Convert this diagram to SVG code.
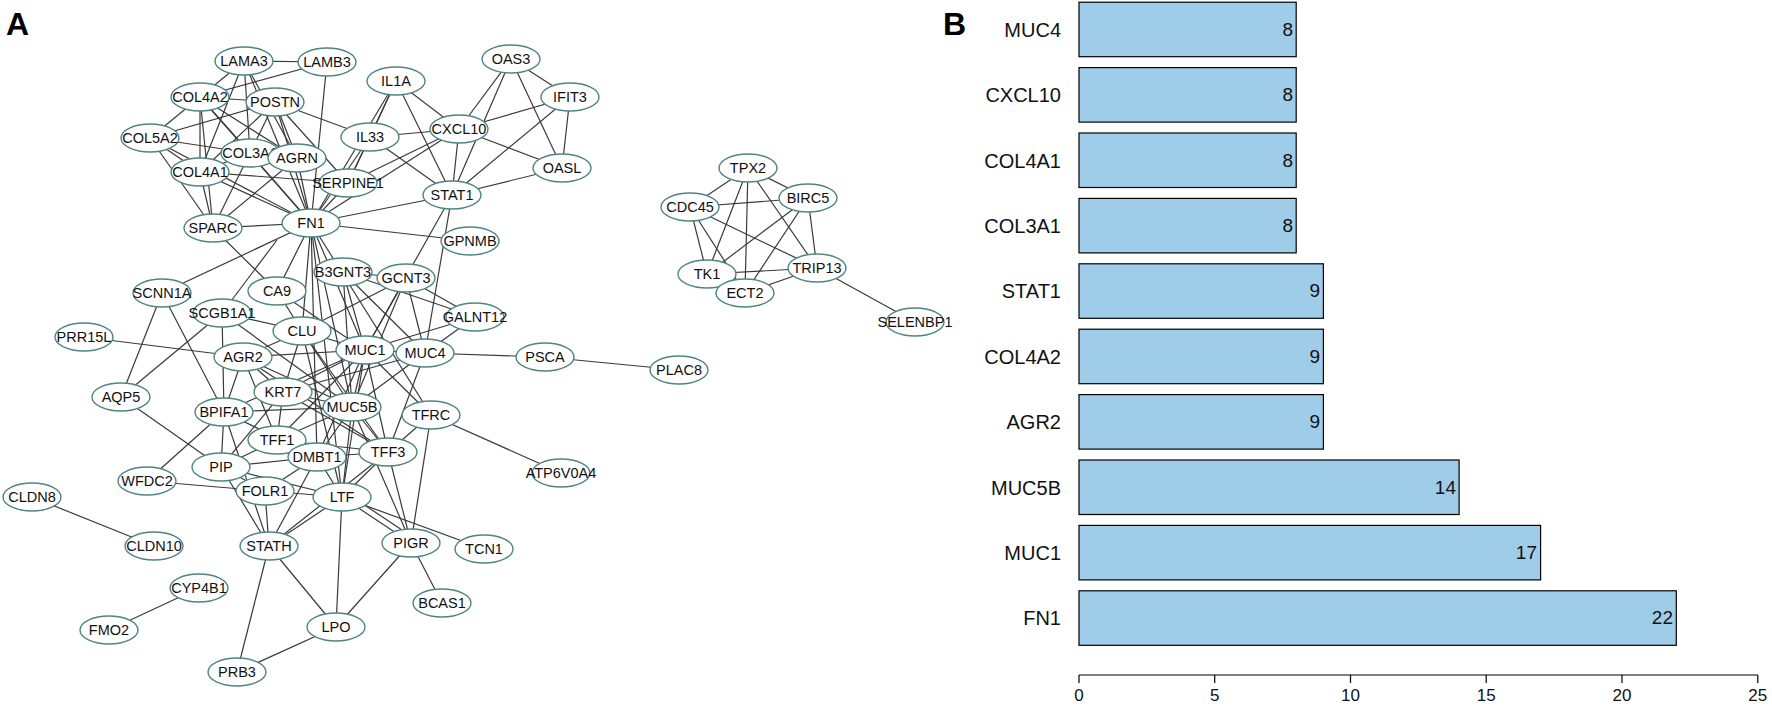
<svg xmlns="http://www.w3.org/2000/svg" width="1772" height="719" viewBox="0 0 1772 719">
<style>
.e line{stroke:#3a3a3a;stroke-width:1.2}
.n ellipse{fill:#fff;stroke:#4f8484;stroke-width:1.4}
.n text{font-family:"Liberation Sans",Arial,sans-serif;font-size:14.5px;text-anchor:middle;fill:#111}
.pl{font-family:"Liberation Sans",Arial,sans-serif;font-size:32px;font-weight:bold;fill:#000}
.bar{fill:#9fcde9;stroke:#000;stroke-width:1.2}
.bl{font-family:"Liberation Sans",Arial,sans-serif;font-size:20px;text-anchor:end;fill:#111}
.bv{font-family:"Liberation Sans",Arial,sans-serif;font-size:19px;text-anchor:end;fill:#111}
.tl{font-family:"Liberation Sans",Arial,sans-serif;font-size:17px;text-anchor:middle;fill:#111}
.ax{stroke:#000;stroke-width:1.2;fill:none}
</style>
<rect width="1772" height="719" fill="#fff"/>
<text class="pl" x="6" y="35">A</text>
<text class="pl" x="943" y="35">B</text>
<g id="connectors" class="e">
<line x1="244" y1="61" x2="327" y2="62"/>
<line x1="244" y1="61" x2="200" y2="97"/>
<line x1="244" y1="61" x2="200" y2="172"/>
<line x1="244" y1="61" x2="250" y2="153"/>
<line x1="244" y1="61" x2="297" y2="158"/>
<line x1="244" y1="61" x2="311" y2="223"/>
<line x1="327" y1="62" x2="200" y2="97"/>
<line x1="327" y1="62" x2="311" y2="223"/>
<line x1="200" y1="97" x2="275" y2="102"/>
<line x1="200" y1="97" x2="150" y2="138"/>
<line x1="200" y1="97" x2="200" y2="172"/>
<line x1="200" y1="97" x2="213" y2="228"/>
<line x1="200" y1="97" x2="250" y2="153"/>
<line x1="200" y1="97" x2="297" y2="158"/>
<line x1="200" y1="97" x2="311" y2="223"/>
<line x1="150" y1="138" x2="275" y2="102"/>
<line x1="150" y1="138" x2="250" y2="153"/>
<line x1="150" y1="138" x2="200" y2="172"/>
<line x1="150" y1="138" x2="311" y2="223"/>
<line x1="150" y1="138" x2="213" y2="228"/>
<line x1="250" y1="153" x2="275" y2="102"/>
<line x1="250" y1="153" x2="213" y2="228"/>
<line x1="250" y1="153" x2="311" y2="223"/>
<line x1="250" y1="153" x2="200" y2="172"/>
<line x1="200" y1="172" x2="348" y2="183"/>
<line x1="200" y1="172" x2="311" y2="223"/>
<line x1="200" y1="172" x2="213" y2="228"/>
<line x1="200" y1="172" x2="275" y2="102"/>
<line x1="275" y1="102" x2="370" y2="137"/>
<line x1="275" y1="102" x2="311" y2="223"/>
<line x1="275" y1="102" x2="297" y2="158"/>
<line x1="275" y1="102" x2="348" y2="183"/>
<line x1="297" y1="158" x2="311" y2="223"/>
<line x1="297" y1="158" x2="213" y2="228"/>
<line x1="213" y1="228" x2="311" y2="223"/>
<line x1="213" y1="228" x2="277" y2="291"/>
<line x1="348" y1="183" x2="311" y2="223"/>
<line x1="348" y1="183" x2="370" y2="137"/>
<line x1="348" y1="183" x2="396" y2="81"/>
<line x1="348" y1="183" x2="459" y2="129"/>
<line x1="396" y1="81" x2="370" y2="137"/>
<line x1="396" y1="81" x2="311" y2="223"/>
<line x1="396" y1="81" x2="459" y2="129"/>
<line x1="396" y1="81" x2="452" y2="195"/>
<line x1="370" y1="137" x2="311" y2="223"/>
<line x1="370" y1="137" x2="459" y2="129"/>
<line x1="370" y1="137" x2="452" y2="195"/>
<line x1="459" y1="129" x2="311" y2="223"/>
<line x1="459" y1="129" x2="452" y2="195"/>
<line x1="459" y1="129" x2="511" y2="59"/>
<line x1="459" y1="129" x2="570" y2="97"/>
<line x1="459" y1="129" x2="562" y2="168"/>
<line x1="511" y1="59" x2="570" y2="97"/>
<line x1="511" y1="59" x2="562" y2="168"/>
<line x1="511" y1="59" x2="452" y2="195"/>
<line x1="570" y1="97" x2="562" y2="168"/>
<line x1="570" y1="97" x2="452" y2="195"/>
<line x1="562" y1="168" x2="452" y2="195"/>
<line x1="452" y1="195" x2="311" y2="223"/>
<line x1="452" y1="195" x2="365" y2="350"/>
<line x1="452" y1="195" x2="425" y2="353"/>
<line x1="311" y1="223" x2="470" y2="241"/>
<line x1="311" y1="223" x2="277" y2="291"/>
<line x1="311" y1="223" x2="302" y2="331"/>
<line x1="311" y1="223" x2="365" y2="350"/>
<line x1="311" y1="223" x2="352" y2="407"/>
<line x1="311" y1="223" x2="431" y2="415"/>
<line x1="311" y1="223" x2="162" y2="293"/>
<line x1="311" y1="223" x2="342" y2="497"/>
<line x1="311" y1="223" x2="317" y2="457"/>
<line x1="222" y1="313" x2="277" y2="240"/>
<line x1="162" y1="293" x2="121" y2="397"/>
<line x1="162" y1="293" x2="224" y2="412"/>
<line x1="121" y1="397" x2="222" y2="313"/>
<line x1="121" y1="397" x2="221" y2="467"/>
<line x1="84" y1="337" x2="243" y2="357"/>
<line x1="222" y1="313" x2="224" y2="412"/>
<line x1="222" y1="313" x2="302" y2="331"/>
<line x1="222" y1="313" x2="352" y2="407"/>
<line x1="277" y1="291" x2="365" y2="350"/>
<line x1="277" y1="291" x2="302" y2="331"/>
<line x1="302" y1="331" x2="365" y2="350"/>
<line x1="302" y1="331" x2="283" y2="392"/>
<line x1="302" y1="331" x2="243" y2="357"/>
<line x1="302" y1="331" x2="352" y2="407"/>
<line x1="302" y1="331" x2="388" y2="452"/>
<line x1="302" y1="331" x2="342" y2="497"/>
<line x1="302" y1="331" x2="406" y2="278"/>
<line x1="243" y1="357" x2="365" y2="350"/>
<line x1="243" y1="357" x2="352" y2="407"/>
<line x1="243" y1="357" x2="283" y2="392"/>
<line x1="243" y1="357" x2="224" y2="412"/>
<line x1="243" y1="357" x2="277" y2="440"/>
<line x1="243" y1="357" x2="388" y2="452"/>
<line x1="343" y1="272" x2="406" y2="278"/>
<line x1="343" y1="272" x2="365" y2="350"/>
<line x1="343" y1="272" x2="352" y2="407"/>
<line x1="343" y1="272" x2="425" y2="353"/>
<line x1="343" y1="272" x2="475" y2="317"/>
<line x1="406" y1="278" x2="365" y2="350"/>
<line x1="406" y1="278" x2="352" y2="407"/>
<line x1="406" y1="278" x2="425" y2="353"/>
<line x1="406" y1="278" x2="475" y2="317"/>
<line x1="475" y1="317" x2="365" y2="350"/>
<line x1="475" y1="317" x2="425" y2="353"/>
<line x1="425" y1="353" x2="545" y2="357"/>
<line x1="545" y1="357" x2="679" y2="370"/>
<line x1="425" y1="353" x2="365" y2="350"/>
<line x1="425" y1="353" x2="352" y2="407"/>
<line x1="425" y1="353" x2="283" y2="392"/>
<line x1="425" y1="353" x2="388" y2="452"/>
<line x1="365" y1="350" x2="352" y2="407"/>
<line x1="365" y1="350" x2="283" y2="392"/>
<line x1="365" y1="350" x2="277" y2="440"/>
<line x1="365" y1="350" x2="388" y2="452"/>
<line x1="365" y1="350" x2="317" y2="457"/>
<line x1="365" y1="350" x2="342" y2="497"/>
<line x1="365" y1="350" x2="224" y2="412"/>
<line x1="365" y1="350" x2="431" y2="415"/>
<line x1="352" y1="407" x2="283" y2="392"/>
<line x1="352" y1="407" x2="224" y2="412"/>
<line x1="352" y1="407" x2="277" y2="440"/>
<line x1="352" y1="407" x2="388" y2="452"/>
<line x1="352" y1="407" x2="317" y2="457"/>
<line x1="352" y1="407" x2="342" y2="497"/>
<line x1="352" y1="407" x2="411" y2="543"/>
<line x1="283" y1="392" x2="277" y2="440"/>
<line x1="283" y1="392" x2="388" y2="452"/>
<line x1="283" y1="392" x2="221" y2="467"/>
<line x1="224" y1="412" x2="221" y2="467"/>
<line x1="224" y1="412" x2="147" y2="481"/>
<line x1="224" y1="412" x2="269" y2="546"/>
<line x1="224" y1="412" x2="317" y2="457"/>
<line x1="277" y1="440" x2="388" y2="452"/>
<line x1="277" y1="440" x2="317" y2="457"/>
<line x1="277" y1="440" x2="221" y2="467"/>
<line x1="317" y1="457" x2="388" y2="452"/>
<line x1="317" y1="457" x2="342" y2="497"/>
<line x1="317" y1="457" x2="221" y2="467"/>
<line x1="317" y1="457" x2="269" y2="546"/>
<line x1="317" y1="457" x2="265" y2="491"/>
<line x1="221" y1="467" x2="265" y2="491"/>
<line x1="221" y1="467" x2="269" y2="546"/>
<line x1="221" y1="467" x2="342" y2="497"/>
<line x1="147" y1="481" x2="265" y2="491"/>
<line x1="265" y1="491" x2="269" y2="546"/>
<line x1="265" y1="491" x2="342" y2="497"/>
<line x1="269" y1="546" x2="342" y2="497"/>
<line x1="269" y1="546" x2="388" y2="452"/>
<line x1="269" y1="546" x2="237" y2="672"/>
<line x1="269" y1="546" x2="336" y2="627"/>
<line x1="388" y1="452" x2="342" y2="497"/>
<line x1="388" y1="452" x2="411" y2="543"/>
<line x1="388" y1="452" x2="431" y2="415"/>
<line x1="431" y1="415" x2="411" y2="543"/>
<line x1="431" y1="415" x2="561" y2="473"/>
<line x1="342" y1="497" x2="411" y2="543"/>
<line x1="345" y1="492" x2="414" y2="538"/>
<line x1="342" y1="497" x2="484" y2="549"/>
<line x1="342" y1="497" x2="336" y2="627"/>
<line x1="411" y1="543" x2="442" y2="603"/>
<line x1="411" y1="543" x2="336" y2="627"/>
<line x1="336" y1="627" x2="237" y2="672"/>
<line x1="32" y1="497" x2="154" y2="546"/>
<line x1="199" y1="588" x2="109" y2="630"/>
<line x1="748" y1="168" x2="808" y2="198"/>
<line x1="748" y1="168" x2="690" y2="207"/>
<line x1="748" y1="168" x2="707" y2="274"/>
<line x1="748" y1="168" x2="745" y2="293"/>
<line x1="748" y1="168" x2="817" y2="268"/>
<line x1="690" y1="207" x2="808" y2="198"/>
<line x1="690" y1="207" x2="707" y2="274"/>
<line x1="690" y1="207" x2="745" y2="293"/>
<line x1="690" y1="207" x2="817" y2="268"/>
<line x1="808" y1="198" x2="707" y2="274"/>
<line x1="808" y1="198" x2="745" y2="293"/>
<line x1="808" y1="198" x2="817" y2="268"/>
<line x1="707" y1="274" x2="817" y2="268"/>
<line x1="745" y1="293" x2="817" y2="268"/>
<line x1="817" y1="268" x2="915" y2="322"/>
</g>
<g id="n-LAMA3" class="n"><ellipse cx="244" cy="61" rx="29" ry="14"/><text x="244" y="66">LAMA3</text></g>
<g id="n-LAMB3" class="n"><ellipse cx="327" cy="62" rx="29" ry="14"/><text x="327" y="67">LAMB3</text></g>
<g id="n-COL4A2" class="n"><ellipse cx="200" cy="97" rx="29" ry="14"/><text x="200" y="102">COL4A2</text></g>
<g id="n-POSTN" class="n"><ellipse cx="275" cy="102" rx="29" ry="14"/><text x="275" y="107">POSTN</text></g>
<g id="n-COL5A2" class="n"><ellipse cx="150" cy="138" rx="29" ry="14"/><text x="150" y="143">COL5A2</text></g>
<g id="n-COL3A1" class="n"><ellipse cx="250" cy="153" rx="29" ry="14"/><text x="250" y="158">COL3A1</text></g>
<g id="n-AGRN" class="n"><ellipse cx="297" cy="158" rx="29" ry="14"/><text x="297" y="163">AGRN</text></g>
<g id="n-COL4A1" class="n"><ellipse cx="200" cy="172" rx="29" ry="14"/><text x="200" y="177">COL4A1</text></g>
<g id="n-SERPINE1" class="n"><ellipse cx="348" cy="183" rx="29" ry="14"/><text x="348" y="188">SERPINE1</text></g>
<g id="n-SPARC" class="n"><ellipse cx="213" cy="228" rx="29" ry="14"/><text x="213" y="233">SPARC</text></g>
<g id="n-FN1" class="n"><ellipse cx="311" cy="223" rx="29" ry="14"/><text x="311" y="228">FN1</text></g>
<g id="n-OAS3" class="n"><ellipse cx="511" cy="59" rx="29" ry="14"/><text x="511" y="64">OAS3</text></g>
<g id="n-IL1A" class="n"><ellipse cx="396" cy="81" rx="29" ry="14"/><text x="396" y="86">IL1A</text></g>
<g id="n-IFIT3" class="n"><ellipse cx="570" cy="97" rx="29" ry="14"/><text x="570" y="102">IFIT3</text></g>
<g id="n-IL33" class="n"><ellipse cx="370" cy="137" rx="29" ry="14"/><text x="370" y="142">IL33</text></g>
<g id="n-CXCL10" class="n"><ellipse cx="459" cy="129" rx="29" ry="14"/><text x="459" y="134">CXCL10</text></g>
<g id="n-OASL" class="n"><ellipse cx="562" cy="168" rx="29" ry="14"/><text x="562" y="173">OASL</text></g>
<g id="n-STAT1" class="n"><ellipse cx="452" cy="195" rx="29" ry="14"/><text x="452" y="200">STAT1</text></g>
<g id="n-GPNMB" class="n"><ellipse cx="470" cy="241" rx="29" ry="14"/><text x="470" y="246">GPNMB</text></g>
<g id="n-SCNN1A" class="n"><ellipse cx="162" cy="293" rx="29" ry="14"/><text x="162" y="298">SCNN1A</text></g>
<g id="n-CA9" class="n"><ellipse cx="277" cy="291" rx="29" ry="14"/><text x="277" y="296">CA9</text></g>
<g id="n-B3GNT3" class="n"><ellipse cx="343" cy="272" rx="29" ry="14"/><text x="343" y="277">B3GNT3</text></g>
<g id="n-GCNT3" class="n"><ellipse cx="406" cy="278" rx="29" ry="14"/><text x="406" y="283">GCNT3</text></g>
<g id="n-GALNT12" class="n"><ellipse cx="475" cy="317" rx="29" ry="14"/><text x="475" y="322">GALNT12</text></g>
<g id="n-SCGB1A1" class="n"><ellipse cx="222" cy="313" rx="29" ry="14"/><text x="222" y="318">SCGB1A1</text></g>
<g id="n-CLU" class="n"><ellipse cx="302" cy="331" rx="29" ry="14"/><text x="302" y="336">CLU</text></g>
<g id="n-PRR15L" class="n"><ellipse cx="84" cy="337" rx="29" ry="14"/><text x="84" y="342">PRR15L</text></g>
<g id="n-AGR2" class="n"><ellipse cx="243" cy="357" rx="29" ry="14"/><text x="243" y="362">AGR2</text></g>
<g id="n-MUC1" class="n"><ellipse cx="365" cy="350" rx="29" ry="14"/><text x="365" y="355">MUC1</text></g>
<g id="n-MUC4" class="n"><ellipse cx="425" cy="353" rx="29" ry="14"/><text x="425" y="358">MUC4</text></g>
<g id="n-PSCA" class="n"><ellipse cx="545" cy="357" rx="29" ry="14"/><text x="545" y="362">PSCA</text></g>
<g id="n-PLAC8" class="n"><ellipse cx="679" cy="370" rx="29" ry="14"/><text x="679" y="375">PLAC8</text></g>
<g id="n-AQP5" class="n"><ellipse cx="121" cy="397" rx="29" ry="14"/><text x="121" y="402">AQP5</text></g>
<g id="n-KRT7" class="n"><ellipse cx="283" cy="392" rx="29" ry="14"/><text x="283" y="397">KRT7</text></g>
<g id="n-MUC5B" class="n"><ellipse cx="352" cy="407" rx="29" ry="14"/><text x="352" y="412">MUC5B</text></g>
<g id="n-TFRC" class="n"><ellipse cx="431" cy="415" rx="29" ry="14"/><text x="431" y="420">TFRC</text></g>
<g id="n-BPIFA1" class="n"><ellipse cx="224" cy="412" rx="29" ry="14"/><text x="224" y="417">BPIFA1</text></g>
<g id="n-TFF1" class="n"><ellipse cx="277" cy="440" rx="29" ry="14"/><text x="277" y="445">TFF1</text></g>
<g id="n-TFF3" class="n"><ellipse cx="388" cy="452" rx="29" ry="14"/><text x="388" y="457">TFF3</text></g>
<g id="n-DMBT1" class="n"><ellipse cx="317" cy="457" rx="29" ry="14"/><text x="317" y="462">DMBT1</text></g>
<g id="n-ATP6V0A4" class="n"><ellipse cx="561" cy="473" rx="29" ry="14"/><text x="561" y="478">ATP6V0A4</text></g>
<g id="n-PIP" class="n"><ellipse cx="221" cy="467" rx="29" ry="14"/><text x="221" y="472">PIP</text></g>
<g id="n-WFDC2" class="n"><ellipse cx="147" cy="481" rx="29" ry="14"/><text x="147" y="486">WFDC2</text></g>
<g id="n-FOLR1" class="n"><ellipse cx="265" cy="491" rx="29" ry="14"/><text x="265" y="496">FOLR1</text></g>
<g id="n-LTF" class="n"><ellipse cx="342" cy="497" rx="29" ry="14"/><text x="342" y="502">LTF</text></g>
<g id="n-CLDN8" class="n"><ellipse cx="32" cy="497" rx="29" ry="14"/><text x="32" y="502">CLDN8</text></g>
<g id="n-CLDN10" class="n"><ellipse cx="154" cy="546" rx="29" ry="14"/><text x="154" y="551">CLDN10</text></g>
<g id="n-STATH" class="n"><ellipse cx="269" cy="546" rx="29" ry="14"/><text x="269" y="551">STATH</text></g>
<g id="n-PIGR" class="n"><ellipse cx="411" cy="543" rx="29" ry="14"/><text x="411" y="548">PIGR</text></g>
<g id="n-TCN1" class="n"><ellipse cx="484" cy="549" rx="29" ry="14"/><text x="484" y="554">TCN1</text></g>
<g id="n-CYP4B1" class="n"><ellipse cx="199" cy="588" rx="29" ry="14"/><text x="199" y="593">CYP4B1</text></g>
<g id="n-BCAS1" class="n"><ellipse cx="442" cy="603" rx="29" ry="14"/><text x="442" y="608">BCAS1</text></g>
<g id="n-LPO" class="n"><ellipse cx="336" cy="627" rx="29" ry="14"/><text x="336" y="632">LPO</text></g>
<g id="n-FMO2" class="n"><ellipse cx="109" cy="630" rx="29" ry="14"/><text x="109" y="635">FMO2</text></g>
<g id="n-PRB3" class="n"><ellipse cx="237" cy="672" rx="29" ry="14"/><text x="237" y="677">PRB3</text></g>
<g id="n-TPX2" class="n"><ellipse cx="748" cy="168" rx="29" ry="14"/><text x="748" y="173">TPX2</text></g>
<g id="n-BIRC5" class="n"><ellipse cx="808" cy="198" rx="29" ry="14"/><text x="808" y="203">BIRC5</text></g>
<g id="n-CDC45" class="n"><ellipse cx="690" cy="207" rx="29" ry="14"/><text x="690" y="212">CDC45</text></g>
<g id="n-TK1" class="n"><ellipse cx="707" cy="274" rx="29" ry="14"/><text x="707" y="279">TK1</text></g>
<g id="n-TRIP13" class="n"><ellipse cx="817" cy="268" rx="29" ry="14"/><text x="817" y="273">TRIP13</text></g>
<g id="n-ECT2" class="n"><ellipse cx="745" cy="293" rx="29" ry="14"/><text x="745" y="298">ECT2</text></g>
<g id="n-SELENBP1" class="n"><ellipse cx="915" cy="322" rx="29" ry="14"/><text x="915" y="327">SELENBP1</text></g>
<g id="barchart">
<rect class="bar" x="1079" y="2.2" width="217.2" height="54.5"/>
<rect class="bar" x="1079" y="67.6" width="217.2" height="54.5"/>
<rect class="bar" x="1079" y="133" width="217.2" height="54.5"/>
<rect class="bar" x="1079" y="198.4" width="217.2" height="54.5"/>
<rect class="bar" x="1079" y="263.8" width="244.4" height="54.5"/>
<rect class="bar" x="1079" y="329.2" width="244.4" height="54.5"/>
<rect class="bar" x="1079" y="394.6" width="244.4" height="54.5"/>
<rect class="bar" x="1079" y="460" width="380.1" height="54.5"/>
<rect class="bar" x="1079" y="525.4" width="461.6" height="54.5"/>
<rect class="bar" x="1079" y="590.8" width="597.3" height="54.5"/>
<text class="bl" x="1061" y="37">MUC4</text>
<text class="bl" x="1061" y="102">CXCL10</text>
<text class="bl" x="1061" y="168">COL4A1</text>
<text class="bl" x="1061" y="233">COL3A1</text>
<text class="bl" x="1061" y="298">STAT1</text>
<text class="bl" x="1061" y="364">COL4A2</text>
<text class="bl" x="1061" y="429">AGR2</text>
<text class="bl" x="1061" y="495">MUC5B</text>
<text class="bl" x="1061" y="560">MUC1</text>
<text class="bl" x="1061" y="625">FN1</text>
<text class="bv" x="1293" y="36">8</text>
<text class="bv" x="1293" y="101">8</text>
<text class="bv" x="1293" y="167">8</text>
<text class="bv" x="1293" y="232">8</text>
<text class="bv" x="1320" y="297">9</text>
<text class="bv" x="1320" y="363">9</text>
<text class="bv" x="1320" y="428">9</text>
<text class="bv" x="1456" y="494">14</text>
<text class="bv" x="1537" y="559">17</text>
<text class="bv" x="1673" y="624">22</text>
<path class="ax" d="M1079 675H1757.8M1079 675v8M1214.7 675v8M1350.5 675v8M1486.2 675v8M1622 675v8M1757.8 675v8"/>
<text class="tl" x="1079" y="701">0</text>
<text class="tl" x="1214.7" y="701">5</text>
<text class="tl" x="1350.5" y="701">10</text>
<text class="tl" x="1486.2" y="701">15</text>
<text class="tl" x="1622" y="701">20</text>
<text class="tl" x="1757.8" y="701">25</text>
</g>
</svg>
